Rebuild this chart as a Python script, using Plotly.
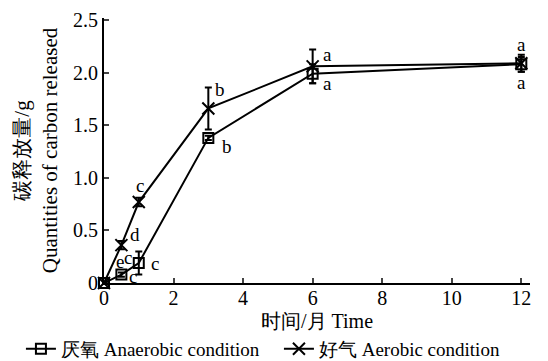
import plotly.graph_objects as go

# ---- data ----
time = [0, 0.5, 1, 3, 6, 12]
anaerobic = [0.0, 0.08, 0.19, 1.38, 1.99, 2.08]
anaerobic_err = [0.0, 0.02, 0.11, 0.02, 0.09, 0.07]
aerobic = [0.0, 0.36, 0.77, 1.66, 2.06, 2.09]
aerobic_err = [0.0, 0.04, 0.04, 0.2, 0.16, 0.08]
anaerobic_letters = ["", "e", "c", "b", "a", "a"]
aerobic_letters = ["", "d", "c", "b", "a", "a"]
extra_letters = ["c", "c"]  # overlapping labels near 0.5 month
x_ticks = [0, 2, 4, 6, 8, 10, 12]
y_ticks = [0, 0.5, 1.0, 1.5, 2.0, 2.5]
y_ticklabels = ["0", "0.5", "1.0", "1.5", "2.0", "2.5"]

FONT = "Liberation Serif"

fig = go.Figure()
fig.add_trace(go.Scatter(
    x=time, y=anaerobic, mode="lines+markers", name="厌氧 Anaerobic condition",
    line=dict(color="black", width=2),
    marker=dict(symbol="square-open", size=10, color="black", line=dict(width=2, color="black")),
    error_y=dict(type="data", array=anaerobic_err, color="black", thickness=2, width=3.5),
    cliponaxis=False,
))
fig.add_trace(go.Scatter(
    x=time, y=aerobic, mode="lines+markers", name="好气 Aerobic condition",
    line=dict(color="black", width=2),
    marker=dict(symbol="x-thin-open", size=12, color="black", line=dict(width=2, color="black")),
    error_y=dict(type="data", array=aerobic_err, color="black", thickness=2, width=3.5),
    cliponaxis=False,
))

# label offsets (pixels) - styling only
an_shift = [None, (-1, 13), (16, 0), (19, -9), (15, -10), (0, -18)]
ae_shift = [None, (14, 11), (1, 17), (12, 19), (15, 12), (0, 19)]
extra_shift = [(7, 17), (12, -2)]

anns = []
for i, t in enumerate(time):
    if anaerobic_letters[i]:
        dx, dy = an_shift[i]
        anns.append(dict(x=t, y=anaerobic[i], text=anaerobic_letters[i], xshift=dx, yshift=dy))
    if aerobic_letters[i]:
        dx, dy = ae_shift[i]
        anns.append(dict(x=t, y=aerobic[i], text=aerobic_letters[i], xshift=dx, yshift=dy))
for j, lt in enumerate(extra_letters):
    dx, dy = extra_shift[j]
    anns.append(dict(x=time[1], y=anaerobic[1], text=lt, xshift=dx, yshift=dy))
for a in anns:
    a.update(xref="x", yref="y", showarrow=False, font=dict(size=19, color="black", family=FONT))

fig.update_layout(
    width=548, height=361,
    margin=dict(l=104, r=18, t=18, b=78, autoexpand=False),
    paper_bgcolor="white", plot_bgcolor="white",
    font=dict(family=FONT, color="black", size=19),
    annotations=anns,
    showlegend=True,
    legend=dict(orientation="h", x=-0.195, xanchor="left", y=-0.177, yanchor="top",
                font=dict(size=19, family=FONT), tracegroupgap=0,
                entrywidth=213, entrywidthmode="pixels",
                bgcolor="rgba(0,0,0,0)"),
    xaxis=dict(range=[0, 12.25], tickvals=x_ticks, ticks="inside", ticklen=5, tickwidth=2,
               showline=True, linecolor="black", linewidth=2, showgrid=False, zeroline=False,
               tickfont=dict(size=20, family=FONT), ticklabelstandoff=-4, automargin=False,
               title=dict(text="时间/月 Time", font=dict(size=20, family=FONT), standoff=6)),
    yaxis=dict(range=[0, 2.52], tickvals=y_ticks, ticktext=y_ticklabels, ticks="inside", ticklen=5,
               tickwidth=2, showline=True, linecolor="black", linewidth=2, showgrid=False,
               zeroline=False, tickfont=dict(size=20, family=FONT), automargin=False,
               title=dict(text="碳释放量/g<br>Quantities of carbon released",
                          font=dict(size=21, family=FONT), standoff=10)),
)

fig.write_html("out.html")
